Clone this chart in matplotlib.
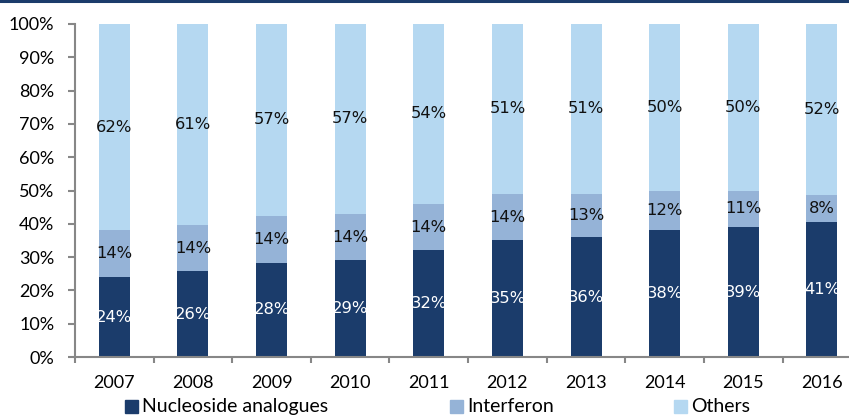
import matplotlib
matplotlib.use("Agg")
import matplotlib.pyplot as plt
from matplotlib.patches import Rectangle
from matplotlib.lines import Line2D
import numpy as np

years = ["2007", "2008", "2009", "2010", "2011", "2012", "2013", "2014", "2015", "2016"]
nucleoside = [24, 26, 28, 29, 32, 35, 36, 38, 39, 41]
interferon = [14, 14, 14, 14, 14, 14, 13, 12, 11, 8]
others = [62, 61, 57, 57, 54, 51, 51, 50, 50, 52]
series_names = ["Nucleoside analogues", "Interferon", "Others"]
colors = ["#1b3c6b", "#95b3d7", "#b5d8f1"]
label_colors = ["white", "#111111", "#111111"]
yticks = [0, 10, 20, 30, 40, 50, 60, 70, 80, 90, 100]

W, H = 849, 418
fig = plt.figure(figsize=(W / 100, H / 100), dpi=100)
ax = fig.add_axes([75 / W, 1 - 357 / H, 1 - 75 / W, (357 - 24) / H])

tick_font = "Lato"
x = np.arange(len(years))
data = np.array([nucleoside, interferon, others], dtype=float)
totals = data.sum(axis=0)
shares = data / totals * 100
bottom = np.zeros(len(years))
for k in range(3):
    ax.bar(x, shares[k], 0.394, bottom=bottom, color=colors[k], zorder=2)
    for i in range(len(years)):
        ax.text(x[i], bottom[i] + shares[k][i] / 2, f"{int(data[k][i])}%",
                ha="center", va="center", fontsize=11.8, color=label_colors[k],
                family="DejaVu Sans", zorder=3)
    bottom += shares[k]

ax.set_xlim(-0.5, 9.345)
ax.set_ylim(0, 100)

gray = "#878787"
for s in ["top", "right"]:
    ax.spines[s].set_visible(False)
for s in ["left", "bottom"]:
    ax.spines[s].set_color(gray)
    ax.spines[s].set_linewidth(1.5)

ax.set_yticks(yticks)
ax.set_yticklabels([f"{v}%" for v in yticks], fontsize=13, family=tick_font)
ax.tick_params(axis="y", direction="out", length=5, width=1.5, color=gray, pad=10)

ax.set_xticks(x)
ax.set_xticklabels(years, fontsize=13, family=tick_font)
ax.tick_params(axis="x", which="major", length=0, pad=13)
ax.set_xticks(np.arange(-0.5, 9.5, 1.0), minor=True)
ax.tick_params(axis="x", which="minor", direction="out", length=4, width=1.5, color=gray)

# top dark band
fig.add_artist(Line2D([0, 1], [1 - 1.2 / H, 1 - 1.2 / H], transform=fig.transFigure,
                      color="#1b3c6b", linewidth=2.2))

# legend (manual)
sq_c = 406
sq = 13
for name, col, sx in zip(series_names, colors, [125, 450, 674]):
    fig.add_artist(Rectangle((sx / W, 1 - (sq_c + sq / 2) / H), sq / W, sq / H,
                             transform=fig.transFigure, color=col))
    fig.text((sx + sq + 4) / W, 1 - (sq_c + 0.5) / H, name, ha="left", va="center",
             fontsize=14, family=tick_font)

fig.savefig("out.png", dpi=100)
